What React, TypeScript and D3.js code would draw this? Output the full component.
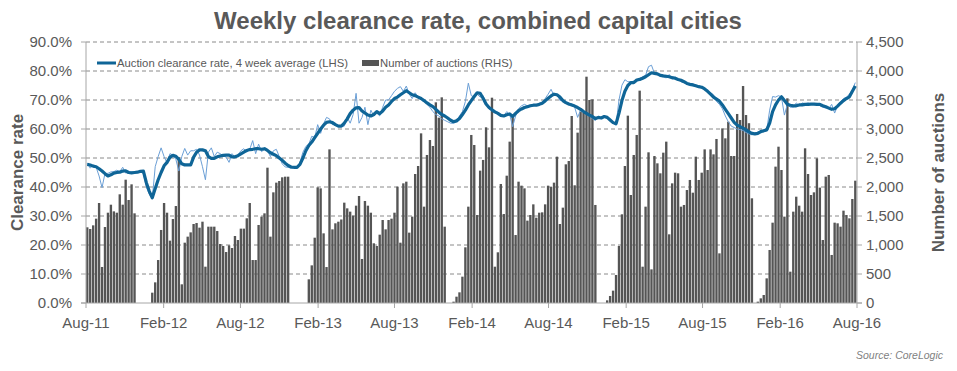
import * as d3 from 'd3';

const WIDTH = 957;
const HEIGHT = 371;
const plot = { left: 86, right: 857, top: 42, bottom: 303 };

// weekly observations, first week ending early Aug 2011
const firstWeek = new Date(2011, 7, 4);

const auctions = [
  1305, 1276, 1339, 1454, 1724, 621, 1310, 1557, 1695, 1580,
  1557, 1874, 1695, 2126, 1776, 2046, 1546, 0, 0, 0,
  0, 0, 178, 356, 741, 1259, 1724, 1557, 1075, 1448,
  1672, 2511, 322, 1040, 1144, 1218, 1362, 1379, 1299, 1402,
  626, 1316, 1316, 1316, 1241, 1017, 983, 879, 994, 948,
  1155, 1086, 1282, 1282, 1460, 1724, 741, 741, 1345, 1489,
  1546, 2333, 1144, 1908, 2075, 2103, 2167, 2178, 2178, 0,
  0, 0, 0, 0, 0, 408, 649, 1126, 1994, 1977,
  1201, 620, 2649, 1270, 1374, 1402, 1440, 1730, 1632, 1575,
  1506, 1678, 1845, 759, 1759, 1678, 1557, 1029, 983, 1178,
  1431, 1270, 1431, 1454, 1557, 2006, 1040, 2063, 2092, 1213,
  1489, 2224, 2362, 2925, 1661, 2552, 2810, 2707, 3460, 3195,
  3546, 1316, 0, 0, 23, 109, 184, 454, 960, 1661,
  2897, 2724, 1517, 2282, 2466, 3029, 2684, 3540, 626, 874,
  2052, 1534, 2195, 2782, 3224, 1172, 2092, 2023, 1977, 1420,
  1517, 1701, 1471, 1557, 1563, 1701, 2023, 2000, 2075, 2523,
  1362, 1644, 2391, 2448, 3224, 2029, 2937, 3299, 3282, 3902,
  3500, 3511, 1690, 0, 0, 0, 46, 121, 213, 483,
  983, 1529, 2362, 3230, 1862, 2552, 2897, 3661, 626, 1661,
  2598, 580, 2534, 2408, 2236, 2592, 2782, 1184, 2063, 2247,
  2236, 1661, 1690, 1948, 2121, 1902, 2523, 2121, 2247, 2649,
  2293, 2649, 2563, 2828, 856, 3011, 2839, 3126, 2534, 2534,
  3259, 3155, 3741, 3241, 3100, 1805, 0, 23, 80, 138,
  425, 914, 1385, 2351, 2695, 2293, 1489, 3529, 540, 1575,
  1833, 1678, 1575, 2667, 2224, 1862, 1908, 2494, 1989, 1086,
  2178, 2207, 828, 1385, 1374, 1316, 1592, 1517, 1460, 1793,
  2109,
];

const weeklyRate = [
  48.2, 46.5, 47.6, 46.8, 43.8, 39.8, 44.7, 44.7, 45.2, 45.3,
  45.8, 45.3, 46.8, 44.8, 45.3, 45.2, 44.9, 45.3, 45.5, 44.5,
  40.0, 37.5, 36.0, 47.0, 50.5, 53.5, 50.5, 48.3, 51.5, 51.0,
  49.5, 45.5, 50.5, 53.3, 51.0, 52.5, 52.5, 53.0, 51.0, 47.0,
  42.5, 52.0, 53.5, 50.5, 52.0, 51.5, 50.8, 50.3, 48.5, 51.5,
  50.3, 51.0, 52.5, 53.2, 52.0, 53.0, 56.0, 51.5, 54.8, 52.2,
  53.0, 52.5, 50.5, 52.5, 53.0, 50.5, 48.0, 46.9, 46.8, 46.5,
  46.4, 46.4, 48.5, 52.0, 54.0, 54.8, 57.5, 57.0, 61.5, 58.5,
  61.8, 64.0, 63.5, 61.5, 61.8, 61.0, 60.8, 61.0, 64.0, 62.0,
  65.0, 72.3, 62.0, 64.0, 67.5, 61.5, 66.5, 64.5, 65.5, 64.5,
  67.5, 70.0, 70.0, 71.5, 73.0, 74.0, 74.6, 73.0, 74.8, 72.0,
  70.5, 72.5, 71.0, 70.5, 70.0, 68.5, 67.5, 66.0, 65.0, 64.5,
  63.5, 63.0, 62.5, 62.0, 62.0, 62.5, 64.5, 66.0, 69.5, 75.8,
  71.5, 71.0, 72.0, 71.0, 71.5, 68.5, 67.0, 66.5, 65.5, 65.8,
  64.8, 64.5, 66.0, 65.0, 60.8, 64.5, 67.0, 68.0, 68.5, 68.0,
  68.2, 68.0, 68.5, 68.5, 69.0, 70.5, 72.0, 73.7, 71.5, 72.0,
  69.8, 70.0, 69.0, 68.3, 68.8, 67.5, 64.0, 66.5, 66.0, 65.0,
  64.5, 63.5, 63.0, 64.0, 63.5, 64.5, 63.8, 63.3, 62.0, 61.4,
  70.0, 75.1, 77.0, 76.3, 76.3, 76.5, 76.3, 77.5, 78.0, 78.5,
  81.5, 82.0, 79.2, 78.7, 78.2, 78.0, 77.6, 78.8, 77.2, 78.0,
  77.0, 76.3, 76.0, 75.4, 75.0, 75.6, 75.2, 74.6, 74.0, 74.0,
  73.0, 72.5, 71.8, 69.5, 68.5, 67.0, 64.5, 62.5, 61.0, 60.5,
  60.0, 59.8, 59.5, 58.8, 58.3, 58.0, 58.5, 59.0, 59.2, 59.0,
  59.5, 66.5, 71.2, 71.0, 71.5, 71.0, 64.8, 68.5, 67.5, 67.5,
  69.0, 68.0, 69.0, 68.7, 69.0, 68.5, 68.8, 68.8, 68.0, 67.5,
  67.2, 67.0, 68.5, 65.5, 68.0, 69.5, 70.5, 71.0, 72.0, 73.5,
  76.0,
];

const avgRate = [
  47.8, 47.6, 47.2, 47.0, 46.3, 45.5, 44.6, 43.8, 44.2, 44.8,
  45.0, 45.1, 45.5, 45.6, 45.0, 44.9, 45.0, 45.1, 45.4, 45.5,
  41.5, 38.5, 36.3, 39.5, 42.5, 45.0, 47.3, 48.5, 50.3, 50.9,
  50.6, 49.5, 48.0, 47.6, 47.6, 47.6, 50.3, 52.0, 52.8, 52.8,
  52.5, 50.5, 49.9, 49.9, 50.4, 50.7, 50.9, 51.0, 51.0, 50.4,
  50.4, 50.8, 51.4, 52.0, 52.6, 52.9, 53.0, 53.2, 53.2, 53.0,
  53.2, 52.6, 51.8, 51.3, 50.8, 50.0, 49.2, 48.2, 47.4, 46.9,
  46.8, 46.8, 47.8, 50.0, 52.5, 54.3, 55.5, 57.0, 58.5, 60.0,
  61.3, 62.3, 62.5, 62.2, 61.5, 61.0, 61.0, 62.0, 63.5, 65.3,
  66.5, 67.3, 67.4, 66.2, 65.5, 64.8, 64.5, 65.0, 66.0, 65.3,
  66.2, 67.5, 68.3, 69.5, 70.5, 71.0, 71.8, 72.5, 73.2, 72.5,
  71.8, 71.5, 71.0, 70.5, 69.8, 69.0, 68.3, 67.7, 66.8, 65.8,
  65.0, 64.5, 63.8, 63.0, 62.5, 62.8, 63.6, 65.0, 66.5, 68.3,
  69.8, 71.2, 72.5, 72.3, 70.6, 68.6, 67.4, 66.6, 65.9, 65.4,
  64.7, 64.5, 64.9, 65.2, 64.3, 65.4, 66.3, 66.9, 67.4, 67.7,
  68.0, 68.2, 68.2, 68.5, 68.9, 69.7, 70.6, 71.4, 72.0, 71.8,
  71.0, 69.8, 69.1, 68.6, 68.3, 67.9, 67.4, 66.8, 66.0, 65.4,
  64.8, 64.3, 63.6, 64.0, 63.8, 64.3, 64.0, 63.1, 62.2, 61.8,
  65.5, 69.8, 73.0, 75.0, 76.0, 76.0, 76.9, 77.1, 77.5, 78.0,
  78.7, 79.4, 79.2, 79.0, 78.5, 78.3, 78.2, 78.0, 77.7, 77.5,
  77.1, 76.8, 76.3, 75.7, 75.4, 75.2, 74.9, 74.6, 74.4, 73.8,
  73.0, 72.0, 71.0, 70.3, 69.6, 68.3, 66.8, 65.3, 63.8, 62.3,
  61.3, 60.8, 60.3, 59.7, 59.0, 58.5, 58.3, 58.5, 59.1, 59.4,
  59.7, 62.0, 66.0, 68.3, 70.0, 71.1, 69.8, 68.5, 68.2, 68.0,
  68.0, 68.3, 68.3, 68.5, 68.5, 68.6, 68.6, 68.5, 68.5, 68.0,
  67.7, 67.2, 66.8, 67.0, 67.9, 68.9, 69.8, 70.5, 71.1, 73.0,
  74.8,
];

const xTickLabels = [
  'Aug-11', 'Feb-12', 'Aug-12', 'Feb-13', 'Aug-13', 'Feb-14',
  'Aug-14', 'Feb-15', 'Aug-15', 'Feb-16', 'Aug-16',
];
const rateTicks = [0, 10, 20, 30, 40, 50, 60, 70, 80, 90];
const auctionTicks = [0, 500, 1000, 1500, 2000, 2500, 3000, 3500, 4000, 4500];

const FONT = "'Liberation Sans', Arial, sans-serif";
const TEXT = '#595959';
const AVG_BLUE = '#0f6597';
const WEEK_BLUE = '#6b9fd6';
const BAR_GREY = '#555555';

const App = () => {
  const parseTick = d3.timeParse('%b-%y');
  const tickDates = xTickLabels.map((l) => parseTick(l) as Date);

  const x = d3
    .scaleTime()
    .domain([tickDates[0], tickDates[tickDates.length - 1]])
    .range([plot.left, plot.right]);

  const yRate = d3.scaleLinear().domain([0, 90]).range([plot.bottom, plot.top]);
  const yAuc = d3.scaleLinear().domain([0, 4500]).range([plot.bottom, plot.top]);

  const weeks = auctions.map((_, i) => d3.timeDay.offset(firstWeek, 7 * i));
  const step = x(weeks[1]) - x(weeks[0]);
  const barW = step * 0.8;

  const lineOf = (vals: number[]) =>
    d3
      .line<number>()
      .x((_, i) => x(weeks[i]))
      .y((d) => yRate(d))(vals) as string;

  return (
    <svg
      width={WIDTH}
      height={HEIGHT}
      style={{ position: 'absolute', left: 0, top: 0, background: '#fff' }}
      fontFamily={FONT}
    >
      <text x={478} y={29} textAnchor="middle" fontSize={24} fontWeight="bold" fill={TEXT}>
        Weekly clearance rate, combined capital cities
      </text>

      {/* gridlines */}
      {rateTicks.slice(1).map((t) => (
        <line
          key={'g' + t}
          x1={plot.left}
          x2={plot.right}
          y1={yRate(t)}
          y2={yRate(t)}
          stroke="#8a8a8a"
          strokeDasharray="4,3"
        />
      ))}

      {/* auction bars */}
      {auctions.map((v, i) =>
        v > 0 ? (
          <rect
            key={'b' + i}
            x={x(weeks[i]) - barW / 2}
            y={yAuc(v)}
            width={barW}
            height={plot.bottom - yAuc(v)}
            fill={BAR_GREY}
          />
        ) : null
      )}

      {/* axes */}
      <line x1={plot.left} x2={plot.left} y1={plot.top} y2={plot.bottom} stroke="#a6a6a6" />
      <line x1={plot.right} x2={plot.right} y1={plot.top} y2={plot.bottom} stroke="#a6a6a6" />
      <line x1={plot.left - 5} x2={plot.right + 5} y1={plot.bottom} y2={plot.bottom} stroke="#a6a6a6" />
      {rateTicks.map((t) => (
        <g key={'l' + t}>
          <line x1={plot.left - 5} x2={plot.left} y1={yRate(t)} y2={yRate(t)} stroke="#a6a6a6" />
          <text x={72} y={yRate(t)} dy="0.35em" textAnchor="end" fontSize={15} fill={TEXT}>
            {t.toFixed(1) + '%'}
          </text>
        </g>
      ))}
      {auctionTicks.map((t) => (
        <g key={'r' + t}>
          <line x1={plot.right} x2={plot.right + 5} y1={yAuc(t)} y2={yAuc(t)} stroke="#a6a6a6" />
          <text x={866} y={yAuc(t)} dy="0.35em" textAnchor="start" fontSize={15} fill={TEXT}>
            {d3.format(',')(t)}
          </text>
        </g>
      ))}
      {tickDates.map((d, i) => (
        <g key={'x' + i}>
          <line x1={x(d)} x2={x(d)} y1={plot.bottom} y2={plot.bottom + 5} stroke="#a6a6a6" />
          <text x={x(d)} y={plot.bottom + 25} textAnchor="middle" fontSize={15} fill={TEXT}>
            {xTickLabels[i]}
          </text>
        </g>
      ))}

      {/* clearance rate lines */}
      <path d={lineOf(weeklyRate)} fill="none" stroke={WEEK_BLUE} strokeWidth={1} />
      <path d={lineOf(avgRate)} fill="none" stroke={AVG_BLUE} strokeWidth={3.2} strokeLinejoin="round" />

      {/* legend */}
      <line x1={97} x2={116} y1={63} y2={63} stroke={AVG_BLUE} strokeWidth={3} />
      <text x={117} y={63} dy="0.35em" fontSize={11.3} fill={TEXT}>
        Auction clearance rate, 4 week average (LHS)
      </text>
      <rect x={362} y={60} width={17} height={6} fill={BAR_GREY} />
      <text x={380} y={63} dy="0.35em" fontSize={11.3} fill={TEXT}>
        Number of auctions (RHS)
      </text>

      {/* axis titles */}
      <text
        transform={`translate(23,${(plot.top + plot.bottom) / 2}) rotate(-90)`}
        textAnchor="middle"
        fontSize={17}
        fontWeight="bold"
        fill={TEXT}
      >
        Clearance rate
      </text>
      <text
        transform={`translate(944,${(plot.top + plot.bottom) / 2}) rotate(-90)`}
        textAnchor="middle"
        fontSize={17}
        fontWeight="bold"
        fill={TEXT}
      >
        Number of auctions
      </text>

      <text x={943} y={359} textAnchor="end" fontSize={10.5} fontStyle="italic" fill="#7f7f7f">
        Source: CoreLogic
      </text>
    </svg>
  );
};

export default App;
